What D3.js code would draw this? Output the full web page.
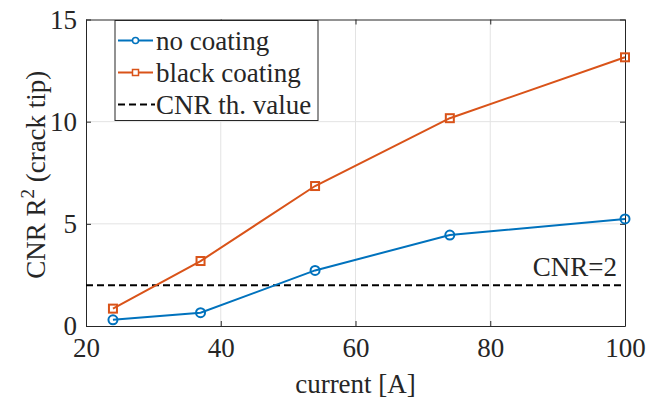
<!DOCTYPE html>
<html>
<head>
  <script src="https://cdnjs.cloudflare.com/ajax/libs/d3/7.8.5/d3.min.js"></script>
</head>
<body style="margin:0">
  <script>
    var current = [24, 37, 54, 74, 100]
    var noCoating = [0.3, 0.65, 2.72, 4.45, 5.24]
    var blackCoating = [0.85, 3.18, 6.85, 10.17, 13.15]
    var threshold = 2
    var xTicks = [20, 40, 60, 80, 100]
    var yTicks = [0, 5, 10, 15]
    var legendLabels = ["no coating", "black coating", "CNR th. value"]

    var width = 646, height = 401
    var margin = { left: 86, right: 21, top: 19.5, bottom: 75 }
    var blue = "#0072BD", orange = "#D95319"
    var fontFam = "'Liberation Serif', 'Times New Roman', Tinos, serif"

    var svg = d3.select("body").append("svg")
      .attr("width", width).attr("height", height)
      .style("font-family", fontFam)

    var x = d3.scaleLinear().domain([20, 100]).range([margin.left, width - margin.right])
    var y = d3.scaleLinear().domain([0, 15]).range([height - margin.bottom, margin.top])

    // grid
    svg.append("g").selectAll("line.gx")
      .data(xTicks.slice(1, -1)).enter().append("line")
      .attr("x1", d => x(d)).attr("x2", d => x(d))
      .attr("y1", y(0)).attr("y2", y(15))
      .attr("stroke", "#e3e3e3").attr("stroke-width", 1)
    svg.append("g").selectAll("line.gy")
      .data(yTicks.slice(1, -1)).enter().append("line")
      .attr("x1", x(20)).attr("x2", x(100))
      .attr("y1", d => y(d)).attr("y2", d => y(d))
      .attr("stroke", "#e3e3e3").attr("stroke-width", 1)

    // axes, ticks inside
    var tickLen = 5
    var xAxis = d3.axisBottom(x).tickValues(xTicks).tickSizeInner(-tickLen).tickSizeOuter(0).tickPadding(12)
    var yAxis = d3.axisLeft(y).tickValues(yTicks).tickSizeInner(-tickLen).tickSizeOuter(0).tickPadding(9)
    var gx = svg.append("g").attr("transform", "translate(0," + y(0) + ")").call(xAxis)
    var gy = svg.append("g").attr("transform", "translate(" + x(20) + ",0)").call(yAxis)
    svg.append("g").attr("transform", "translate(0," + y(15) + ")")
      .call(d3.axisTop(x).tickValues(xTicks).tickSizeInner(-tickLen).tickSizeOuter(0).tickFormat(""))
    svg.append("g").attr("transform", "translate(" + x(100) + ",0)")
      .call(d3.axisRight(y).tickValues(yTicks).tickSizeInner(-tickLen).tickSizeOuter(0).tickFormat(""))
    svg.selectAll(".domain, .tick line").attr("stroke", "#262626").attr("stroke-width", 1)
    svg.selectAll("g").attr("font-family", null)
    gx.selectAll("text").attr("font-size", 27).attr("fill", "#262626").style("font-family", fontFam)
    gy.selectAll("text").attr("font-size", 27).attr("fill", "#262626").style("font-family", fontFam)

    // threshold
    svg.append("line")
      .attr("x1", x(20)).attr("x2", x(100))
      .attr("y1", y(threshold)).attr("y2", y(threshold))
      .attr("stroke", "#000").attr("stroke-width", 2)
      .attr("stroke-dasharray", "7,4")
    svg.append("text")
      .attr("x", 617).attr("y", y(threshold) - 9)
      .attr("text-anchor", "end").attr("font-size", 27)
      .attr("fill", "#262626")
      .text("CNR=" + threshold)

    var line = d3.line().x((d, i) => x(current[i])).y(d => y(d))

    svg.append("path").datum(noCoating)
      .attr("d", line).attr("fill", "none")
      .attr("stroke", blue).attr("stroke-width", 2)
    svg.append("g").selectAll("circle")
      .data(noCoating).enter().append("circle")
      .attr("cx", (d, i) => x(current[i])).attr("cy", d => y(d))
      .attr("r", 4.5).attr("fill", "none")
      .attr("stroke", blue).attr("stroke-width", 2)

    svg.append("path").datum(blackCoating)
      .attr("d", line).attr("fill", "none")
      .attr("stroke", orange).attr("stroke-width", 2)
    svg.append("g").selectAll("rect")
      .data(blackCoating).enter().append("rect")
      .attr("x", (d, i) => x(current[i]) - 4).attr("y", d => y(d) - 4)
      .attr("width", 8).attr("height", 8).attr("fill", "none")
      .attr("stroke", orange).attr("stroke-width", 2)

    // axis labels
    svg.append("text")
      .attr("x", (x(20) + x(100)) / 2).attr("y", 393)
      .attr("text-anchor", "middle").attr("font-size", 27)
      .attr("fill", "#262626")
      .text("current [A]")
    var yl = svg.append("text")
      .attr("transform", "translate(45," + ((y(0) + y(15)) / 2 + 2) + ") rotate(-90)")
      .attr("text-anchor", "middle").attr("font-size", 27)
      .attr("fill", "#262626")
    yl.append("tspan").text("CNR R")
    yl.append("tspan").attr("dy", -11).attr("font-size", 19).text("2")
    yl.append("tspan").attr("dy", 11).text(" (crack tip)")

    // legend
    var lg = svg.append("g").attr("transform", "translate(115,20.5)")
    lg.append("rect").attr("width", 203).attr("height", 100)
      .attr("fill", "#fff").attr("stroke", "#262626").attr("stroke-width", 1)
    var rowY = [20, 52, 84]
    legendLabels.forEach((lab, i) => {
      var g = lg.append("g").attr("transform", "translate(0," + rowY[i] + ")")
      var ln = g.append("line").attr("x1", 3).attr("x2", 38).attr("y1", 0).attr("y2", 0)
        .attr("stroke-width", 2)
      if (i == 0) {
        ln.attr("stroke", blue)
        g.append("circle").attr("cx", 20.5).attr("cy", 0).attr("r", 3)
          .attr("fill", "#fff").attr("stroke", blue).attr("stroke-width", 1.5)
      } else if (i == 1) {
        ln.attr("stroke", orange)
        g.append("rect").attr("x", 17.5).attr("y", -3).attr("width", 6).attr("height", 6)
          .attr("fill", "#fff").attr("stroke", orange).attr("stroke-width", 1.5)
      } else {
        ln.attr("stroke", "#000").attr("stroke-dasharray", "7,4").attr("x2", 40)
      }
      g.append("text").attr("x", 41).attr("y", 9).attr("font-size", 27)
        .attr("fill", "#262626").text(lab)
    })
  </script>
</body>
</html>
